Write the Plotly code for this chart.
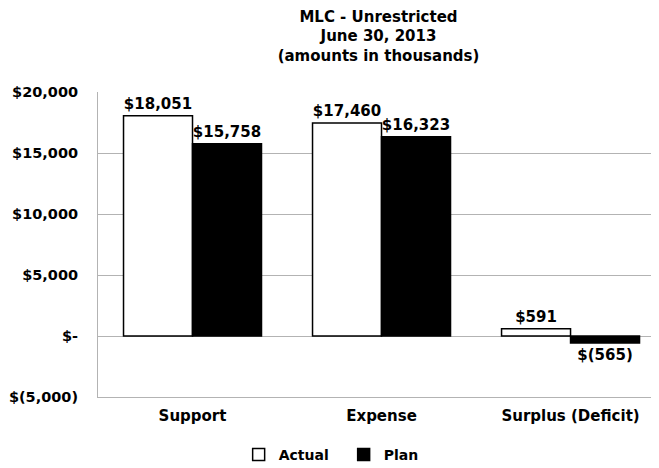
import plotly.graph_objects as go

categories = ["Support", "Expense", "Surplus (Deficit)"]
actual = [18051, 17460, 591]
plan = [15758, 16323, -565]
actual_labels = ["$18,051", "$17,460", "$591"]
plan_labels = ["$15,758", "$16,323", "$(565)"]
tick_vals = [-5000, 0, 5000, 10000, 15000, 20000]
tick_text = ["$(5,000)", "$-", "$5,000", "$10,000", "$15,000", "$20,000"]

FONT = "DejaVu Sans"
tf = dict(family=FONT, size=15, color="black", weight="bold")

fig = go.Figure()
fig.add_trace(go.Bar(
    name="Actual", x=categories, y=actual, text=actual_labels,
    textposition="outside", constraintext="none", cliponaxis=False,
    textfont=tf,
    marker=dict(color="white", line=dict(color="black", width=1.5)),
))
fig.add_trace(go.Bar(
    name="Plan", x=categories, y=plan, text=plan_labels,
    textposition="outside", constraintext="none", cliponaxis=False,
    textfont=tf,
    marker=dict(color="black", line=dict(color="black", width=1.5)),
))

fig.update_layout(
    template="none",
    width=659, height=468,
    paper_bgcolor="white", plot_bgcolor="white",
    margin=dict(l=90, r=8, t=84, b=79, autoexpand=False),
    barmode="group", bargap=0.27, bargroupgap=0,
    font=dict(family=FONT, color="black", size=15, weight="bold"),
    title=dict(
        text="MLC - Unrestricted<br>June 30, 2013<br>(amounts in thousands)",
        x=0.5, xref="paper", xanchor="center",
        y=0.971, yref="container", yanchor="top",
        font=dict(family=FONT, size=15, color="black", weight="bold"),
    ),
    showlegend=True,
    legend=dict(orientation="h", x=0.350, xref="container", xanchor="left",
                y=0.045, yref="container", yanchor="middle",
                font=dict(family=FONT, size=14, color="black", weight="bold"),
                itemwidth=30, entrywidth=60, entrywidthmode="pixels",
                traceorder="normal", bgcolor="rgba(0,0,0,0)"),
    xaxis=dict(range=[-0.5, 2.468], showline=True, linecolor="#b3b3b3", linewidth=1,
               ticks="", showgrid=False,
               zeroline=False, automargin=False, ticklabelstandoff=5,
               tickfont=dict(family=FONT, size=15, color="black", weight="bold")),
    yaxis=dict(range=[-5000, 20000], tickvals=tick_vals, ticktext=tick_text,
               showgrid=True, gridcolor="#b3b3b3", gridwidth=1,
               zeroline=True, zerolinecolor="#b3b3b3", zerolinewidth=1,
               showline=True, linecolor="#b3b3b3", linewidth=1,
               ticks="", ticklabelstandoff=16, automargin=False,
               tickfont=dict(family=FONT, size=14.5, color="black", weight="bold")),
)

fig.write_html("out.html")
